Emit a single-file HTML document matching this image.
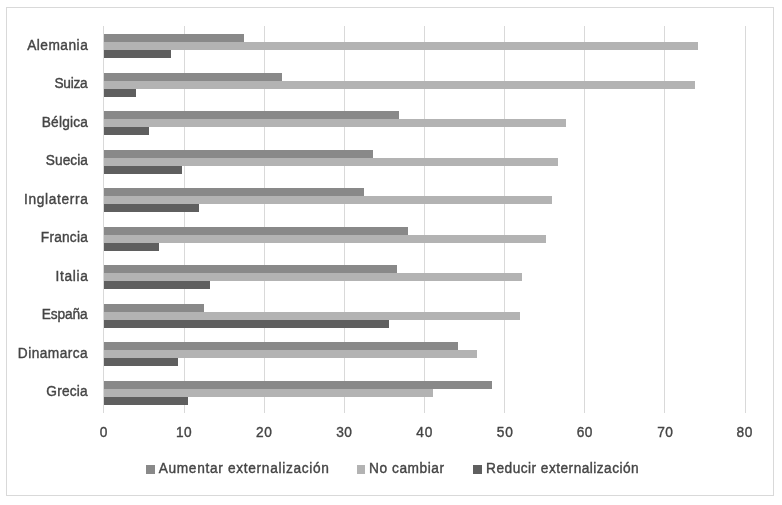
<!DOCTYPE html>
<html lang="es"><head><meta charset="utf-8"><title>Gráfico</title>
<style>
html,body{margin:0;padding:0;background:#fff;}
body{width:782px;height:505px;overflow:hidden;}
svg{display:block;}
text{font-family:"Liberation Sans","DejaVu Sans",sans-serif;font-size:14.6px;fill:#454545;stroke:#454545;stroke-width:0.4px;}
</style></head><body>
<svg width="782" height="505" viewBox="0 0 782 505">
<rect x="0" y="0" width="782" height="505" fill="#fff"/>
<g shape-rendering="crispEdges">
<rect x="6.5" y="7.5" width="767" height="488" fill="#fff" stroke="#d9d9d9" stroke-width="1"/>
<rect x="103" y="26" width="1" height="386.5" fill="#d9d9d9"/>
<rect x="184" y="26" width="1" height="386.5" fill="#d9d9d9"/>
<rect x="264" y="26" width="1" height="386.5" fill="#d9d9d9"/>
<rect x="344" y="26" width="1" height="386.5" fill="#d9d9d9"/>
<rect x="424" y="26" width="1" height="386.5" fill="#d9d9d9"/>
<rect x="504" y="26" width="1" height="386.5" fill="#d9d9d9"/>
<rect x="584" y="26" width="1" height="386.5" fill="#d9d9d9"/>
<rect x="664" y="26" width="1" height="386.5" fill="#d9d9d9"/>
<rect x="745" y="26" width="1" height="386.5" fill="#d9d9d9"/>
<rect x="104" y="34" width="140" height="8" fill="#898989"/>
<rect x="104" y="42" width="594" height="8" fill="#b3b3b3"/>
<rect x="104" y="50" width="67" height="8" fill="#5f5f5f"/>
<rect x="104" y="73" width="178" height="8" fill="#898989"/>
<rect x="104" y="81" width="591" height="8" fill="#b3b3b3"/>
<rect x="104" y="89" width="32" height="8" fill="#5f5f5f"/>
<rect x="104" y="111" width="295" height="8" fill="#898989"/>
<rect x="104" y="119" width="462" height="8" fill="#b3b3b3"/>
<rect x="104" y="127" width="45" height="8" fill="#5f5f5f"/>
<rect x="104" y="150" width="269" height="8" fill="#898989"/>
<rect x="104" y="158" width="454" height="8" fill="#b3b3b3"/>
<rect x="104" y="166" width="78" height="8" fill="#5f5f5f"/>
<rect x="104" y="188" width="260" height="8" fill="#898989"/>
<rect x="104" y="196" width="448" height="8" fill="#b3b3b3"/>
<rect x="104" y="204" width="95" height="8" fill="#5f5f5f"/>
<rect x="104" y="227" width="304" height="8" fill="#898989"/>
<rect x="104" y="235" width="442" height="8" fill="#b3b3b3"/>
<rect x="104" y="243" width="55" height="8" fill="#5f5f5f"/>
<rect x="104" y="265" width="293" height="8" fill="#898989"/>
<rect x="104" y="273" width="418" height="8" fill="#b3b3b3"/>
<rect x="104" y="281" width="106" height="8" fill="#5f5f5f"/>
<rect x="104" y="304" width="100" height="8" fill="#898989"/>
<rect x="104" y="312" width="416" height="8" fill="#b3b3b3"/>
<rect x="104" y="320" width="285" height="8" fill="#5f5f5f"/>
<rect x="104" y="342" width="354" height="8" fill="#898989"/>
<rect x="104" y="350" width="373" height="8" fill="#b3b3b3"/>
<rect x="104" y="358" width="74" height="8" fill="#5f5f5f"/>
<rect x="104" y="381" width="388" height="8" fill="#898989"/>
<rect x="104" y="389" width="329" height="8" fill="#b3b3b3"/>
<rect x="104" y="397" width="84" height="8" fill="#5f5f5f"/>
<rect x="146" y="465" width="9" height="9" fill="#898989"/>
<rect x="357" y="465" width="8" height="9" fill="#b3b3b3"/>
<rect x="473" y="465" width="9" height="9" fill="#5f5f5f"/>
</g>
<text id="c0" transform="translate(27.14 49.75) rotate(0.02) scale(0.94 1)" textLength="64.52" lengthAdjust="spacing">Alemania</text>
<text id="c1" transform="translate(54.52 88.25) rotate(0.02) scale(0.94 1)" textLength="35.22" lengthAdjust="spacing">Suiza</text>
<text id="c2" transform="translate(41.73 126.75) rotate(0.02) scale(0.94 1)" textLength="49.20" lengthAdjust="spacing">Bélgica</text>
<text id="c3" transform="translate(45.83 165.25) rotate(0.02) scale(0.94 1)" textLength="44.79" lengthAdjust="spacing">Suecia</text>
<text id="c4" transform="translate(23.99 203.75) rotate(0.02) scale(0.94 1)" textLength="68.03" lengthAdjust="spacing">Inglaterra</text>
<text id="c5" transform="translate(40.80 242.25) rotate(0.02) scale(0.94 1)" textLength="50.00" lengthAdjust="spacing">Francia</text>
<text id="c6" transform="translate(55.42 280.75) rotate(0.02) scale(0.94 1)" textLength="34.62" lengthAdjust="spacing">Italia</text>
<text id="c7" transform="translate(41.74 319.25) rotate(0.02) scale(0.94 1)" textLength="48.82" lengthAdjust="spacing">España</text>
<text id="c8" transform="translate(17.83 357.75) rotate(0.02) scale(0.94 1)" textLength="74.25" lengthAdjust="spacing">Dinamarca</text>
<text id="c9" transform="translate(46.34 396.25) rotate(0.02) scale(0.94 1)" textLength="44.01" lengthAdjust="spacing">Grecia</text>
<text id="t0" transform="translate(99.87 437.00) rotate(0.02) scale(0.94 1)" textLength="9.67" lengthAdjust="spacing">0</text>
<text id="t1" transform="translate(175.89 437.00) rotate(0.02) scale(0.94 1)" textLength="16.63" lengthAdjust="spacing">10</text>
<text id="t2" transform="translate(256.02 437.00) rotate(0.02) scale(0.94 1)" textLength="16.79" lengthAdjust="spacing">20</text>
<text id="t3" transform="translate(336.17 437.00) rotate(0.02) scale(0.94 1)" textLength="16.85" lengthAdjust="spacing">30</text>
<text id="t4" transform="translate(416.30 437.00) rotate(0.02) scale(0.94 1)" textLength="17.08" lengthAdjust="spacing">40</text>
<text id="t5" transform="translate(496.69 437.00) rotate(0.02) scale(0.94 1)" textLength="17.12" lengthAdjust="spacing">50</text>
<text id="t6" transform="translate(576.84 437.00) rotate(0.02) scale(0.94 1)" textLength="16.51" lengthAdjust="spacing">60</text>
<text id="t7" transform="translate(657.24 437.00) rotate(0.02) scale(0.94 1)" textLength="16.56" lengthAdjust="spacing">70</text>
<text id="t8" transform="translate(736.57 437.00) rotate(0.02) scale(0.94 1)" textLength="16.79" lengthAdjust="spacing">80</text>
<text id="l0" transform="translate(158.65 473.00) rotate(0.02) scale(0.94 1)" textLength="181.14" lengthAdjust="spacing">Aumentar externalización</text>
<text id="l1" transform="translate(369.00 473.00) rotate(0.02) scale(0.94 1)" textLength="79.93" lengthAdjust="spacing">No cambiar</text>
<text id="l2" transform="translate(486.12 473.00) rotate(0.02) scale(0.94 1)" textLength="162.38" lengthAdjust="spacing">Reducir externalización</text>
</svg></body></html>
